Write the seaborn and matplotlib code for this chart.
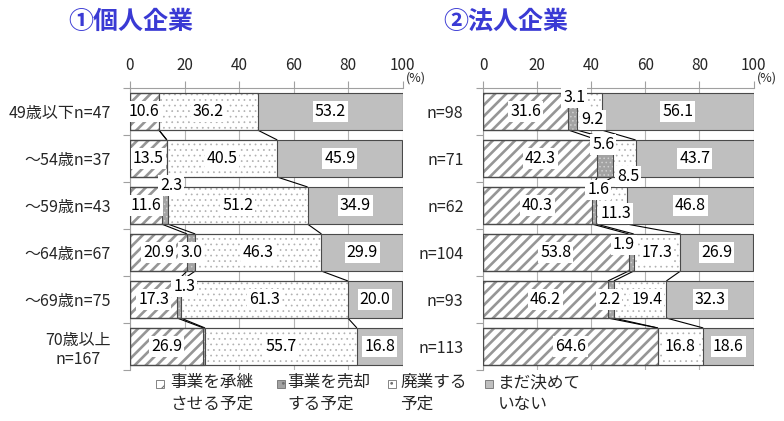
import matplotlib
matplotlib.use("Agg")
import matplotlib.pyplot as plt
from matplotlib.patches import Rectangle
import numpy as np
import pandas as pd
import seaborn as sns

# ---- data -------------------------------------------------------------
series_names = ["事業を承継\nさせる予定", "事業を売却\nする予定", "廃業する\n予定", "まだ決めて\nいない"]

indiv_cats = ["49歳以下n=47", "～54歳n=37", "～59歳n=43", "～64歳n=67", "～69歳n=75", "70歳以上\nn=167"]
indiv_succeed = [10.6, 13.5, 11.6, 20.9, 17.3, 26.9]
indiv_sell = [0.0, 0.0, 2.3, 3.0, 1.3, 0.6]
indiv_close = [36.2, 40.5, 51.2, 46.3, 61.3, 55.7]
indiv_undecided = [53.2, 45.9, 34.9, 29.9, 20.0, 16.8]

corp_cats = ["n=98", "n=71", "n=62", "n=104", "n=93", "n=113"]
corp_succeed = [31.6, 42.3, 40.3, 53.8, 46.2, 64.6]
corp_sell = [3.1, 5.6, 1.6, 1.9, 2.2, 0.0]
corp_close = [9.2, 8.5, 11.3, 17.3, 19.4, 16.8]
corp_undecided = [56.1, 43.7, 46.8, 26.9, 32.3, 18.6]

# ---- styling ----------------------------------------------------------
sns.set_theme(style="white")
plt.rcParams["font.family"] = ["Noto Sans CJK JP", "DejaVu Sans"]

styles = [
    dict(face="white", hatch="///", hcolor="#969696", hlw=1.9),
    dict(face="#a3a3a3", hatch="....", hcolor="#d0d0d0", hlw=0.6),
    dict(face="white", hatch="...", hcolor="#b0b0b0", hlw=0.5),
    dict(face="#bfbfbf", hatch="", hcolor="#bfbfbf", hlw=1.0),
]
GRID = "#b4b4b4"
AXIS = "#a0a0a0"
BAR_W = 0.79
TITLE_COLOR = "#3a3ad4"

# label nudges for narrow segments: (panel, row, series) -> (dx in %, dy in rows)
label_nudge = {
    (0, 2, 1): (2.3, -0.42),
    (0, 4, 1): (2.0, -0.27),
    (1, 0, 1): (0.6, -0.30),
    (1, 0, 2): (1.2, 0.18),
    (1, 1, 1): (-0.6, -0.29),
    (1, 1, 2): (1.6, 0.39),
    (1, 2, 1): (1.5, -0.33),
    (1, 2, 2): (1.5, 0.17),
    (1, 3, 1): (-2.7, -0.16),
    (1, 4, 1): (-0.6, 0.0),
    (1, 4, 2): (2.5, 0.0),
}

W, H = 784, 421
fig = plt.figure(figsize=(W / 100, H / 100), dpi=100)
fig.patch.set_facecolor("white")
ax_l = fig.add_axes([130 / W, 1 - 370 / H, 272.7 / W, 282 / H])
ax_r = fig.add_axes([483 / W, 1 - 370 / H, 270.5 / W, 282 / H])


def draw_panel(ax, panel, cats, series):
    vals = np.array(series, dtype=float)
    cum = np.cumsum(vals, axis=0)
    starts = cum - vals
    n = len(cats)
    df = pd.DataFrame({"cat": cats})

    # cumulative totals, widest first, so each narrower bar exposes one segment
    for k in range(3, -1, -1):
        df["total"] = cum[k]
        with plt.rc_context({"hatch.linewidth": styles[k]["hlw"]}):
            sns.barplot(data=df, x="total", y="cat", orient="h", ax=ax, width=BAR_W,
                        color=styles[k]["face"], edgecolor=styles[k]["hcolor"],
                        linewidth=0, hatch=styles[k]["hatch"], saturation=1, zorder=2)
    for k in range(3, -1, -1):
        df["total"] = cum[k]
        sns.barplot(data=df, x="total", y="cat", orient="h", ax=ax, width=BAR_W,
                    fill=False, color="#4a4a4a", linewidth=0.8, zorder=3)

    # series lines joining segment boundaries of neighbouring bars
    h = BAR_W / 2
    for i in range(n - 1):
        for k in range(3):
            ax.plot([cum[k][i], cum[k][i + 1]], [i + h, i + 1 - h],
                    color="black", lw=0.8, zorder=2.5, solid_capstyle="butt")

    # value labels
    for k in range(4):
        for i in range(n):
            v = vals[k][i]
            if v < 1.0:
                continue
            dx, dy = label_nudge.get((panel, i, k), (0.0, 0.0))
            ax.text(starts[k][i] + v / 2 + dx, i + dy, f"{v:.1f}",
                    ha="center", va="center", fontsize=11.5, color="black",
                    zorder=6,
                    bbox=dict(boxstyle="square,pad=0.12", fc="white", ec="none"))

    ax.set_xlim(0, 100)
    ax.set_ylim(n - 0.5, -0.5)
    ax.set_xticks([0, 20, 40, 60, 80, 100])
    ax.xaxis.tick_top()
    ax.tick_params(axis="x", which="major", direction="out", length=5,
                   color=AXIS, width=0.8, labelsize=11, pad=5,
                   top=True, bottom=False, labeltop=True, labelbottom=False)
    ax.set_yticks(range(n))
    ax.set_yticklabels(cats)
    ax.set_yticks(np.arange(-0.5, n, 1), minor=True)
    ax.tick_params(axis="y", which="major", length=0, pad=14, labelsize=11.5)
    ax.tick_params(axis="y", which="minor", length=5, color=AXIS, width=0.8,
                   direction="out", left=True)
    for t in ax.get_yticklabels():
        t.set_multialignment("center")
    ax.set_xlabel("")
    ax.set_ylabel("")
    ax.set_axisbelow(True)
    ax.grid(False)
    ax.grid(axis="x", color=GRID, lw=0.8)
    for side in ("right", "bottom"):
        ax.spines[side].set_visible(False)
    for side in ("top", "left"):
        ax.spines[side].set_color(AXIS)
        ax.spines[side].set_linewidth(0.8)
        ax.spines[side].set_zorder(1)
    ax.text(1.012, 1.035, "(%)", transform=ax.transAxes, ha="left",
            va="center", fontsize=9)


draw_panel(ax_l, 0, indiv_cats, [indiv_succeed, indiv_sell, indiv_close, indiv_undecided])
draw_panel(ax_r, 1, corp_cats, [corp_succeed, corp_sell, corp_close, corp_undecided])

# panel titles
fig.text(68 / W, 1 - 22 / H, "①個人企業", fontsize=18, color=TITLE_COLOR,
         ha="left", va="center", fontweight="bold")
fig.text(443 / W, 1 - 22 / H, "②法人企業", fontsize=18, color=TITLE_COLOR,
         ha="left", va="center", fontweight="bold")

# legend
swatch_x = [156, 277, 388, 485]
text_x = [170, 287, 400, 498]
for k in range(4):
    with plt.rc_context({"hatch.linewidth": 0.8}):
        fig.patches.append(Rectangle((swatch_x[k] / W, 1 - 388 / H), 8 / W, 8 / H,
                                     transform=fig.transFigure, facecolor=styles[k]["face"],
                                     edgecolor="#707070", hatch=styles[k]["hatch"][:2],
                                     linewidth=0.6))
    fig.text(text_x[k] / W, 1 - 374 / H, series_names[k], fontsize=12,
             ha="left", va="top", linespacing=1.35)

fig.savefig("out.png", dpi=100, facecolor="white")
